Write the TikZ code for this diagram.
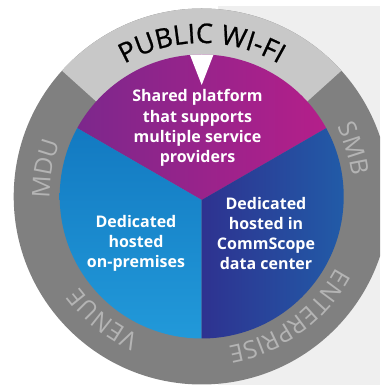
\documentclass[tikz,border=0pt]{standalone}
\usepackage{fontspec}
\setmainfont{Open Sans}
\newfontfamily\pubfam[FakeBold=0.8]{Open Sans}
\usetikzlibrary{decorations.text}
\definecolor{bgpanel}{RGB}{239,239,239}
\definecolor{ringdark}{RGB}{128,128,128}
\definecolor{ringlight}{RGB}{200,200,200}
\definecolor{ringtxt}{RGB}{180,180,180}
\definecolor{purA}{RGB}{120,40,140}
\definecolor{purB}{RGB}{185,30,138}
\definecolor{bluA}{RGB}{18,120,192}
\definecolor{bluB}{RGB}{34,154,218}
\definecolor{dbA}{RGB}{46,50,144}
\definecolor{dbB}{RGB}{33,92,168}
\newcommand\ringfnt{\fontsize{24.5}{28}\selectfont}
\newcommand\pubfnt{\pubfam\fontsize{27}{30}\selectfont}
\begin{document}
\begin{tikzpicture}[x=1pt,y=1pt,
  seglabel/.style={text=white, font=\bfseries\fontsize{16}{20.3}\selectfont, align=center, inner sep=0pt}]
\useasboundingbox (0,0) rectangle (380,385);
\clip (0,0) rectangle (380,385);
\fill[bgpanel] (218,0) rectangle (380,379);
\coordinate (ctr) at (201.7,188.5);
\coordinate (mid) at (201.7,185);
\fill[ringdark] (ctr) circle[radius=188];
\fill[ringlight] (ctr) -- ([shift={(42:188)}]ctr) arc[start angle=42,end angle=138,radius=188] -- cycle;
\begin{scope}
  \clip (ctr) circle[radius=142];
  \shade[left color=purA, right color=purB] (mid) -- ([shift={(150:166)}]mid) -- (57,335) -- (347,335) -- ([shift={(30:166)}]mid) -- cycle;
  \shade[top color=bluA, bottom color=bluB] (mid) -- ([shift={(150:166)}]mid) -- (57,40) -- (201.7,40) -- cycle;
  \shade[left color=dbA, right color=dbB] (mid) -- (201.7,40) -- (347,40) -- ([shift={(30:166)}]mid) -- cycle;
  \fill[white] (187.7,336) -- (215.7,336) -- (201.7,300) -- cycle;
\end{scope}
\node[seglabel] (shared) at (197.5,257) {Shared platform\\that supports\\multiple service\\providers};
\node[seglabel] (onprem) at (136,141.6) {Dedicated\\hosted\\on-premises};
\node[seglabel] (commscope) at (266,151.5) {Dedicated\\hosted in\\CommScope\\data center};
\path[decorate, decoration={text along path, text align=center, text color=black, text={|\pubfnt|PUBLIC WI-FI}}]
  ([shift={(150:153.5)}]ctr) arc[start angle=150, end angle=30, radius=153.5];
\path[decorate, decoration={text along path, text align=center, text color=ringtxt, text={|\ringfnt|MDU}}]
  ([shift={(200:152)}]ctr) arc[start angle=200, end angle=140, radius=152];
\path[decorate, decoration={text along path, text align=center, text color=ringtxt, text={|\ringfnt|SMB}}]
  ([shift={(47.5:152)}]ctr) arc[start angle=47.5, end angle=-12.5, radius=152];
\path[decorate, decoration={text along path, text align=center, text color=ringtxt, text={|\ringfnt|ENTERPRISE}}]
  ([shift={(6:152)}]ctr) arc[start angle=6, end angle=-114, radius=152];
\path[decorate, decoration={text along path, text align=center, text color=ringtxt, text={|\ringfnt|VENUE}}]
  ([shift={(-89:152)}]ctr) arc[start angle=-89, end angle=-169, radius=152];
\end{tikzpicture}
\end{document}
